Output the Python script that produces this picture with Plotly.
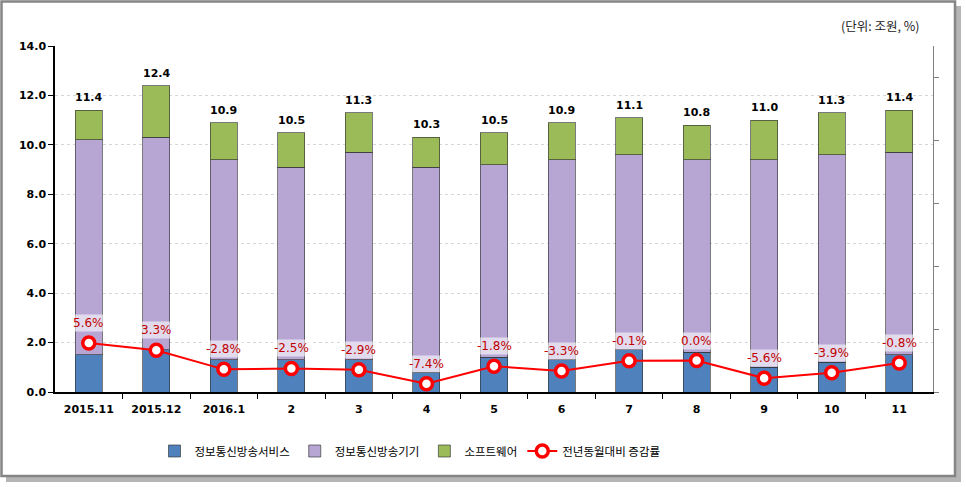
import plotly.graph_objects as go

categories = ["2015.11", "2015.12", "2016.1", "2", "3", "4", "5", "6", "7", "8", "9", "10", "11"]
service = [1.5, 1.7, 1.3, 1.3, 1.3, 0.8, 1.4, 1.3, 1.7, 1.6, 1.0, 1.2, 1.5]
equipment = [8.7, 8.6, 8.1, 7.8, 8.4, 8.3, 7.8, 8.1, 7.9, 7.8, 8.4, 8.4, 8.2]
software = [1.2, 2.1, 1.5, 1.4, 1.6, 1.2, 1.3, 1.5, 1.5, 1.4, 1.6, 1.7, 1.7]
totals = [11.4, 12.4, 10.9, 10.5, 11.3, 10.3, 10.5, 10.9, 11.1, 10.8, 11.0, 11.3, 11.4]
growth = [5.6, 3.3, -2.8, -2.5, -2.9, -7.4, -1.8, -3.3, -0.1, 0.0, -5.6, -3.9, -0.8]

names = ["정보통신방송서비스", "정보통신방송기기", "소프트웨어", "전년동월대비 증감률"]

# plot area in pixels
L, R, T, B = 55, 933, 46, 392
W, H = 966, 487
def px(x):
    return (x - L) / (R - L)
def py(y):
    return (B - y) / (B - T)

idx = list(range(len(categories)))

fig = go.Figure()
edge = dict(color="rgba(50,50,50,0.65)", width=1)
fig.add_trace(go.Bar(x=idx, y=service, name=names[0],
                     marker=dict(color="#4f81bd", line=edge)))
fig.add_trace(go.Bar(x=idx, y=equipment, name=names[1],
                     marker=dict(color="#b7a6d3", line=edge)))
fig.add_trace(go.Bar(x=idx, y=software, name=names[2],
                     marker=dict(color="#9bbb59", line=edge)))
fig.add_trace(go.Scatter(x=idx, y=growth, name=names[3], yaxis="y2",
                         mode="lines+markers",
                         line=dict(color="#ff0000", width=2),
                         marker=dict(symbol="circle", size=12, color="white",
                                     line=dict(color="#ff0000", width=3.5))))

annotations = []
for i, t in zip(idx, totals):
    annotations.append(dict(x=i, y=t, xref="x", yref="y", text=f"<b>{t:.1f}</b>",
                            showarrow=False, yanchor="bottom", yshift=4,
                            font=dict(family="DejaVu Sans", size=11, color="black")))
for i, g in zip(idx, growth):
    annotations.append(dict(x=i, y=g, xref="x", yref="y2", text=f"{g:.1f}%",
                            showarrow=False, yanchor="middle", yshift=20,
                            bgcolor="rgba(255,255,255,0.6)", borderpad=1,
                            font=dict(family="DejaVu Sans", size=12, color="#c00000")))
annotations.append(dict(x=px(922), y=py(26), xref="paper", yref="paper",
                        text="(단위: 조원, %)", showarrow=False,
                        xanchor="right", yanchor="middle",
                        font=dict(family="Noto Sans CJK KR", size=12.5, color="#222")))

shapes = [
    dict(type="rect", xref="paper", yref="paper", layer="below",
         x0=px(6), x1=px(961), y0=py(482), y1=py(6),
         fillcolor="#b5b5b5", line=dict(width=0)),
    dict(type="rect", xref="paper", yref="paper", layer="below",
         x0=px(1.5), x1=px(955), y0=py(476), y1=py(1.5),
         fillcolor="white", line=dict(color="#858585", width=2.5)),
]

fig.update_layout(
    width=W, height=H,
    margin=dict(l=L, r=W - R, t=T, b=H - B),
    paper_bgcolor="white", plot_bgcolor="white",
    barmode="stack", bargap=0.6,
    font=dict(family="Noto Sans CJK KR", size=12, color="black"),
    showlegend=True,
    legend=dict(orientation="h", x=px(410), xanchor="center", y=py(451), yanchor="middle",
                traceorder="normal", font=dict(family="Noto Sans CJK KR", size=11.5),
                itemwidth=30, bgcolor="rgba(0,0,0,0)"),
    xaxis=dict(range=[-0.5, len(categories) - 0.5], tickvals=idx, ticktext=categories,
               showline=True, linecolor="black", linewidth=1.5,
               ticks="", tickangle=0, ticklabelstandoff=6,
               tickfont=dict(family="DejaVu Sans", size=11, color="black", weight="bold"),
               showgrid=False, zeroline=False,
               minor=dict(tickvals=[i + 0.5 for i in idx[:-1]], ticks="outside",
                          ticklen=5, tickcolor="black", showgrid=False)),
    yaxis=dict(range=[0, 14], dtick=2, tickformat=".1f", showline=True,
               linecolor="black", linewidth=1.5, ticks="outside", ticklen=5,
               tickcolor="black",
               tickfont=dict(family="DejaVu Sans", size=11, color="black", weight="bold"),
               showgrid=True, gridcolor="#d6d6d6", griddash="dot", gridwidth=1,
               zeroline=False),
    yaxis2=dict(range=[-10, 100], overlaying="y", side="right",
                tickvals=[-10, 10, 30, 50, 70, 90], showticklabels=False,
                ticks="outside", ticklen=5, tickcolor="#808080",
                showline=True, linecolor="#808080", linewidth=1,
                showgrid=False, zeroline=False),
    annotations=annotations,
    shapes=shapes,
)

fig.write_html("out.html")
